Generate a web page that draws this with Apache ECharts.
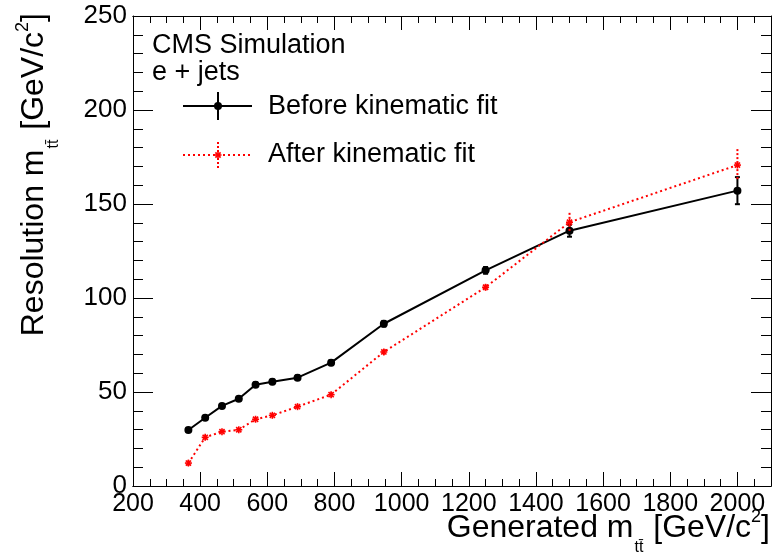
<!DOCTYPE html>
<html><head><meta charset="utf-8">
<script src="https://cdn.jsdelivr.net/npm/echarts@6/dist/echarts.min.js"></script>
<style>html,body{margin:0;padding:0;background:#fff}#c{width:777px;height:554px}</style>
</head><body><div id="c"></div>
<script>
// ---- data ----
const massX     = [365, 415, 465, 515, 565, 615, 690, 790, 947, 1250, 1500, 2000];
const beforeRes = [29.8, 36.3, 42.6, 46.4, 53.9, 55.4, 57.6, 65.6, 86.3, 114.7, 135.8, 157.1];
const beforeErr = [1.0, 1.0, 1.0, 1.0, 1.2, 1.2, 1.2, 1.3, 1.5, 1.8, 3.2, 7.2];
const afterRes  = [12.2, 25.9, 28.9, 29.9, 35.5, 37.6, 42.2, 48.6, 71.3, 105.7, 140.3, 170.7];
const afterErr  = [1.5, 1.2, 1.0, 1.0, 1.0, 1.0, 1.0, 1.2, 1.5, 1.6, 5.0, 8.5];
const xTickLabels = [200, 400, 600, 800, 1000, 1200, 1400, 1600, 1800, 2000];
const yTickLabels = [0, 50, 100, 150, 200, 250];
const seriesNames = ['Before kinematic fit', 'After kinematic fit'];

const FONT = 'Liberation Sans, Arial, Helvetica, sans-serif';
const RED = '#ff0000';

const beforeData = massX.map((x, i) => [x, beforeRes[i], beforeErr[i]]);
const afterData  = massX.map((x, i) => [x, afterRes[i], afterErr[i]]);

function starLines(cx, cy, color) {
  const r = 3.5, d = 2.6, ss = {stroke: color, lineWidth: 1.6};
  return [
    {type: 'line', shape: {x1: cx - r, y1: cy, x2: cx + r, y2: cy}, style: ss},
    {type: 'line', shape: {x1: cx, y1: cy - r, x2: cx, y2: cy + r}, style: ss},
    {type: 'line', shape: {x1: cx - d, y1: cy - d, x2: cx + d, y2: cy + d}, style: ss},
    {type: 'line', shape: {x1: cx - d, y1: cy + d, x2: cx + d, y2: cy - d}, style: ss}
  ];
}

function errRender(color, dotted, caps, star) {
  return function (params, api) {
    const x = api.value(0), y = api.value(1), e = api.value(2);
    const t = api.coord([x, y + e]), b = api.coord([x, y - e]), c = api.coord([x, y]);
    const st = {stroke: color, lineWidth: 2, lineDash: dotted ? [2, 2] : null};
    let ch = [{type: 'line', shape: {x1: t[0], y1: t[1], x2: b[0], y2: b[1]}, style: st}];
    if (caps) {
      ch.push({type: 'line', shape: {x1: t[0] - 2.5, y1: t[1], x2: t[0] + 2.5, y2: t[1]}, style: {stroke: color, lineWidth: 2}});
      ch.push({type: 'line', shape: {x1: b[0] - 2.5, y1: b[1], x2: b[0] + 2.5, y2: b[1]}, style: {stroke: color, lineWidth: 2}});
    }
    if (star) ch = ch.concat(starLines(c[0], c[1], color));
    return {type: 'group', children: ch};
  };
}

function xAxisDef(pos, interval, tickLen, labels) {
  return {
    type: 'value', position: pos, min: 200, max: 2100, interval: interval,
    axisLine: {show: true, onZero: false, lineStyle: {color: '#000', width: 1}},
    axisTick: {show: true, inside: true, length: tickLen, lineStyle: {color: '#000', width: 1}},
    axisLabel: {show: labels, color: '#000', fontSize: 25, fontFamily: FONT, margin: 6,
      showMaxLabel: false,
      formatter: v => xTickLabels.indexOf(v) >= 0 ? String(v) : ''},
    splitLine: {show: false}
  };
}
function yAxisDef(pos, labels) {
  return {
    type: 'value', position: pos, min: 0, max: 250, interval: 50,
    axisLine: {show: true, onZero: false, lineStyle: {color: '#000', width: 1}},
    axisTick: {show: true, inside: true, length: 20, lineStyle: {color: '#000', width: 1}},
    minorTick: {show: true, splitNumber: 5, length: 10, lineStyle: {color: '#000', width: 1}},
    axisLabel: {show: labels, color: '#000', fontSize: 26, fontFamily: FONT, margin: 6,
      formatter: v => yTickLabels.indexOf(v) >= 0 ? String(v) : ''},
    splitLine: {show: false}, minorSplitLine: {show: false}
  };
}

const titleRich = {
  a: {fontSize: 32, fontFamily: FONT, color: '#000', verticalAlign: 'middle', lineHeight: 36},
  s: {fontSize: 16, fontFamily: FONT, color: '#000', verticalAlign: 'middle', padding: [40, 1, 0, 1], lineHeight: 36},
  p: {fontSize: 18, fontFamily: FONT, color: '#000', verticalAlign: 'middle', padding: [0, 0, 21, 0], lineHeight: 36}
};

const chart = echarts.init(document.getElementById('c'), null, {renderer: 'canvas'});
chart.setOption({
  animation: false,
  backgroundColor: '#fff',
  grid: {left: 133, right: 6, top: 16, bottom: 68, containLabel: false},
  xAxis: [
    xAxisDef('bottom', 200, 14, true),
    xAxisDef('bottom', 50, 7, false),
    xAxisDef('top', 200, 14, false),
    xAxisDef('top', 50, 7, false)
  ],
  yAxis: [yAxisDef('left', true), yAxisDef('right', false)],
  series: [
    {name: seriesNames[0], type: 'line', data: beforeData, xAxisIndex: 0, yAxisIndex: 0,
      symbol: 'circle', symbolSize: 8, showSymbol: true,
      itemStyle: {color: '#000'}, lineStyle: {color: '#000', width: 2}, z: 3},
    {name: seriesNames[0] + ' err', type: 'custom', data: beforeData, xAxisIndex: 0, yAxisIndex: 0,
      encode: {x: 0, y: 1}, renderItem: errRender('#000', false, true, false), z: 3},
    {name: seriesNames[1], type: 'line', data: afterData, xAxisIndex: 0, yAxisIndex: 0,
      showSymbol: false, symbol: 'none',
      lineStyle: {color: RED, width: 2, type: [2, 3]}, z: 4},
    {name: seriesNames[1] + ' err', type: 'custom', data: afterData, xAxisIndex: 0, yAxisIndex: 0,
      encode: {x: 0, y: 1}, renderItem: errRender(RED, true, false, true), z: 4}
  ],
  graphic: [
    {type: 'text', x: 152, y: 46, style: {text: 'CMS Simulation', font: '27px ' + FONT, fill: '#000', verticalAlign: 'middle'}},
    {type: 'text', x: 152, y: 73, style: {text: 'e + jets', font: '27px ' + FONT, fill: '#000', verticalAlign: 'middle'}},
    // legend: before
    {type: 'line', shape: {x1: 183, y1: 106, x2: 252, y2: 106}, style: {stroke: '#000', lineWidth: 2}},
    {type: 'line', shape: {x1: 218, y1: 92, x2: 218, y2: 120}, style: {stroke: '#000', lineWidth: 2}},
    {type: 'circle', shape: {cx: 218, cy: 106, r: 4}, style: {fill: '#000'}},
    {type: 'text', x: 268, y: 107, style: {text: seriesNames[0], font: '27px ' + FONT, fill: '#000', verticalAlign: 'middle'}},
    // legend: after
    {type: 'line', shape: {x1: 183, y1: 155, x2: 252, y2: 155}, style: {stroke: RED, lineWidth: 2, lineDash: [2, 3]}},
    {type: 'line', shape: {x1: 218, y1: 142, x2: 218, y2: 168}, style: {stroke: RED, lineWidth: 2, lineDash: [2, 2]}},
    {type: 'group', children: starLines(218, 155, RED)},
    {type: 'text', x: 268, y: 155, style: {text: seriesNames[1], font: '27px ' + FONT, fill: '#000', verticalAlign: 'middle'}},
    // axis titles
    {type: 'text', x: 770, y: 528, style: {
      text: '{a|Generated m}{s|tt\u0304}{a| [GeV/c}{p|2}{a|]}',
      align: 'right', verticalAlign: 'middle', fill: '#000', rich: titleRich}},
    {type: 'text', x: 34, y: 13, rotation: Math.PI / 2, style: {
      text: '{a|Resolution m}{s|tt\u0304}{a| [GeV/c}{p|2}{a|]}',
      align: 'right', verticalAlign: 'middle', fill: '#000', rich: titleRich}}
  ]
});
</script></body></html>
